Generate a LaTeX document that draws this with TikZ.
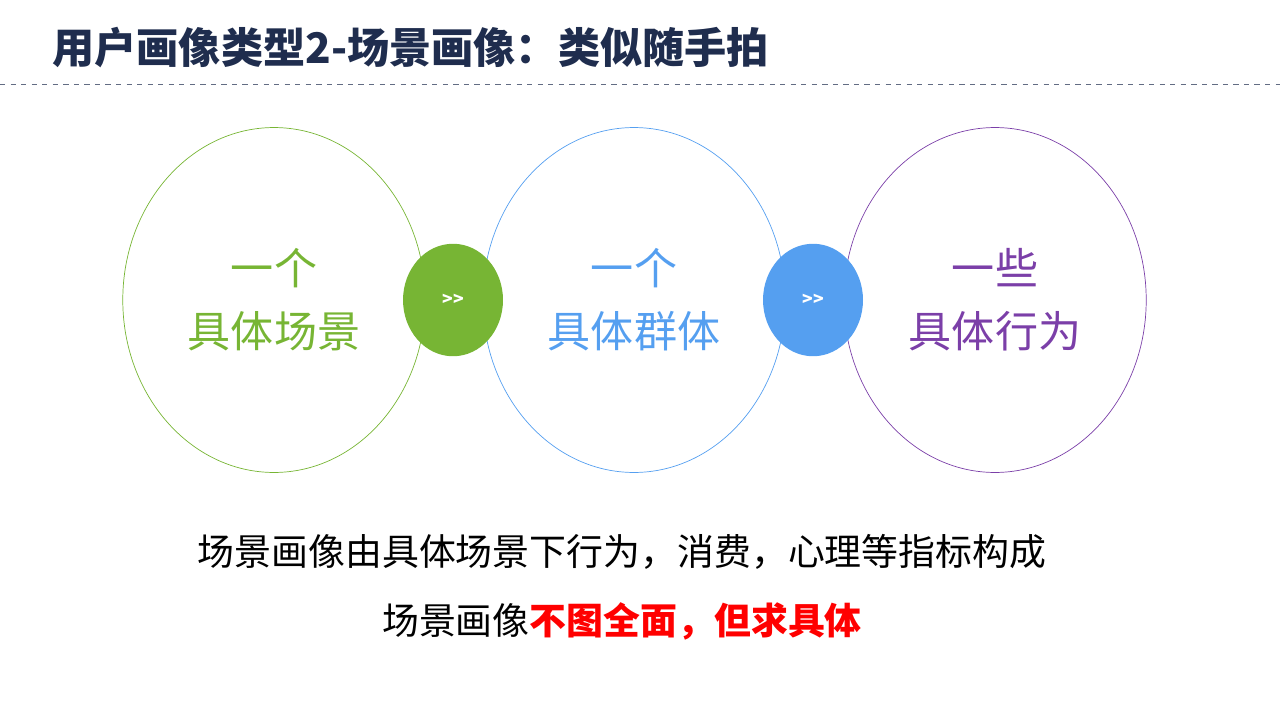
\documentclass[tikz,border=0pt]{standalone}
\usepackage{fontspec}
\setmainfont{Noto Sans CJK SC}
\usetikzlibrary{positioning,shapes.geometric}
\definecolor{navy}{HTML}{1F2D4E}
\definecolor{leaf}{HTML}{77B534}
\definecolor{sky}{HTML}{559FF0}
\definecolor{grape}{HTML}{7B3FA8}
\tikzset{ring/.style={draw, thin, ellipse, minimum width=6.05cm, minimum height=6.9cm},
  hop/.style={ellipse, minimum width=2cm, minimum height=2.25cm, text=white, font=\fontsize{10}{11}\selectfont\bfseries},
  big/.style={align=center, font=\fontsize{24.5}{36}\selectfont}}

\begin{document}
\begin{tikzpicture}[x=0.02cm,y=-0.02cm]
    \useasboundingbox (0,0) rectangle (1280,720);

    %title
    \node[anchor=west, inner sep=0pt, text=navy, font=\fontsize{24}{28}\selectfont\bfseries] (title) at (52,48) {用户画像类型2-场景画像：类似随手拍};
    \draw[dashed, navy!70] (0,84) -- (1280,84);

    %rings
    \node[ring, draw=leaf] (scene) at (274,300) {};
    \node[ring, draw=sky] (group) at (634,300) {};
    \node[ring, draw=grape] (act) at (995,300) {};
    \node[big, text=leaf] at (274,300) {一个\\具体场景};
    \node[big, text=sky] at (634,300) {一个\\具体群体};
    \node[big, text=grape] at (995,300) {一些\\具体行为};

    %links
    \node[hop, fill=leaf] (hopA) at (453,300) {>{}>};
    \node[hop, fill=sky] (hopB) at (813,300) {>{}>};

    %summary
    \node[font=\fontsize{21}{24}\selectfont] (sum) at (622,552) {场景画像由具体场景下行为，消费，心理等指标构成};
    \node[font=\fontsize{21}{24}\selectfont] (key) at (622,621) {场景画像\textcolor{red}{\bfseries 不图全面，但求具体}};
\end{tikzpicture}
\end{document}
